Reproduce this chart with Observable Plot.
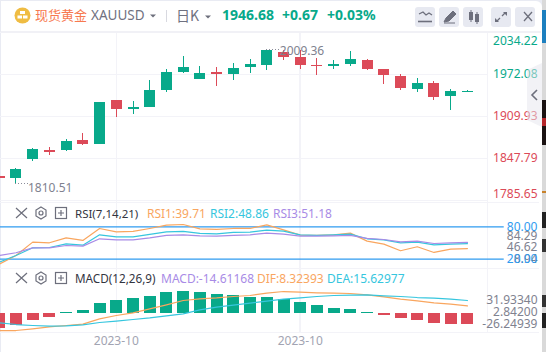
<!DOCTYPE html>
<html><head><meta charset="utf-8">
<script src="https://cdn.jsdelivr.net/npm/d3@7"></script>
<script src="https://cdn.jsdelivr.net/npm/@observablehq/plot@0.6"></script>
<style>
html,body{margin:0;padding:0;background:#e9ebf3;}
body{width:546px;height:352px;overflow:hidden;position:relative;font-family:"Noto Sans","Noto Sans CJK SC",sans-serif;}
#panel{position:absolute;left:1px;top:1px;width:541px;height:351px;background:#fff;border-top-right-radius:6px;}
.abs{position:absolute;white-space:nowrap;line-height:1;}
.pane{position:absolute;left:0;}
.pane svg{display:block;overflow:visible;}
.btn{position:absolute;top:7px;width:20px;height:20px;border-radius:3px;background:#e7e9f1;}
.strip{position:absolute;left:542px;width:4px;}
</style></head><body>
<div class="strip" style="top:0;height:352px;background:#d9d9d9"></div>
<div class="strip" style="top:10px;height:33px;background:#1c7fbf"></div>
<div class="strip" style="top:100px;height:45px;background:#1a1212"></div>
<div class="strip" style="top:118px;height:8px;background:#b5262a"></div>
<div class="strip" style="top:191px;height:2px;background:#c8822a"></div>
<div class="strip" style="top:212px;height:16px;background:#222"></div>
<div class="strip" style="top:239px;height:13px;background:#333"></div>
<div class="strip" style="top:295px;height:12px;background:#333"></div>
<div class="strip" style="top:313px;height:15px;background:#222"></div>
<div id="panel"></div>
<div id="charts"></div>
<div id="chrome"></div>
<script>
// ----- candle data -----
const index = d3.range(29);
const opens  = [1821.2,1818.2,1846.8,1859.2,1859.6,1874.4,1868.5,1933.6,1920.3,1923.7,1948.8,1975.0,1965.1,1975.5,1972.5,1982.4,1985.8,2005.0,1997.2,1985.4,1983.9,1986.9,1992.8,1979.5,1969.1,1949.9,1958.8,1939.5,1945.9];
const highs  = [1821.9,1833.4,1862.6,1864.1,1875.9,1884.8,1930.6,1933.6,1932.1,1963.2,1979.0,1998.7,1983.9,1982.9,1988.3,1994.3,2009.36,2007.0,2007.6,1995.7,1992.8,2006.1,1994.3,1979.5,1972.1,1966.2,1961.7,1949.9,1948.4];
const lows   = [1817.5,1810.51,1843.4,1852.2,1858.1,1867.0,1868.5,1908.5,1913.3,1923.7,1945.4,1973.5,1964.7,1954.3,1963.2,1973.5,1978.0,1992.8,1979.5,1970.6,1979.5,1983.9,1978.0,1957.3,1948.4,1945.4,1933.6,1919.3,1945.4];
const closes = [1818.2,1831.5,1861.1,1857.4,1872.9,1868.5,1930.6,1920.3,1923.7,1948.4,1975.0,1982.4,1973.5,1972.5,1981.0,1986.9,2007.6,1997.7,1985.8,1984.3,1986.9,1994.3,1979.5,1970.6,1951.4,1958.8,1938.0,1946.9,1946.68];
// ----- RSI -----
const rsi1 = [10.9,26.9,51.6,50.4,59.6,54.7,76.9,70.7,71.4,76.9,83.1,84.29,76.3,75.1,76.9,76.9,83.7,74.4,64.6,64.0,65.2,68.3,53.5,47.9,35.6,43.0,32.5,38.6,39.71];
const rsi2 = [14.6,26.9,41.1,41.7,48.5,46.0,65.2,61.5,61.5,65.8,70.7,71.4,67.7,67.0,69.5,70.1,73.8,72.0,65.2,64.0,65.2,66.4,57.8,55.9,50.4,51.6,46.7,47.9,48.86];
const rsi3 = [26.9,31.9,41.1,41.1,45.4,44.2,57.8,55.9,55.9,59.6,64.0,65.2,63.3,62.7,64.0,65.2,68.3,66.4,62.7,62.7,63.3,64.0,58.4,56.5,52.2,53.5,49.1,50.4,51.18];
// ----- MACD -----
const macdBars = [-19.6,-15.6,-9.3,-5.3,0.7,4.0,13.3,17.3,20.0,22.7,28.0,29.3,28.0,25.3,23.6,21.3,21.3,18.7,14.7,10.7,6.7,5.3,0.9,-2.7,-6.7,-9.3,-13.3,-14.7,-14.61];
const dif = [-22.7,-22.7,-20.4,-17.8,-16.0,-14.2,-7.1,-2.7,0.9,6.2,11.6,17.3,19.6,20.9,22.7,24.0,27.1,29.3,28.4,27.6,27.1,26.7,24.9,22.2,19.1,16.9,14.2,12.4,10.2];
const dea = [-12.4,-14.7,-16.0,-16.9,-16.4,-15.1,-12.0,-10.2,-8.0,-5.8,-3.1,-0.4,4.9,8.4,11.1,13.8,16.4,19.1,20.9,22.7,24.0,24.4,24.9,23.6,22.7,21.3,20.4,19.1,17.3];
// ----- axis labels -----
const priceTicks  = [2034.22,1972.08,1909.93,1847.79,1785.65];
const priceLabelY = [2022,1972.08,1909.93,1847.79,1795];
const rsiLevels = [80,20];
const rsiExtraLabels = ["84.29","46.62","8.94"];
const rsiExtraY = [62.8,42.3,19.6];
const macdLabels = ["31.93340","2.84200","-26.24939"];
const macdLabelY = [17.3,2.3,-14];
const dateTicks = [7,18];
const dateLabels = ["2023-10","2023-10"];
const highIdx = 16, lowIdx = 1;
// ----- styling -----
const GREEN="#08a98a", RED="#dc4a58", GRID="#f3f3f8", BLUE="#2f9bf0",
      ORANGE="#f9a65f", CYAN="#36c6de", PURPLE="#a88be6", GRAYTXT="#80828f";
const FONT='"Noto Sans",sans-serif';
const xScale = {domain:[0.0735,29.2], range:[0,487], axis:null};
const colorOf = i => closes[i] >= opens[i] ? GREEN : RED;
const base = {width:546, marginLeft:0, marginRight:59, x:xScale, style:{background:"transparent",fontFamily:FONT,fontSize:"12px"}};
const vgrid = () => Plot.ruleX([...dateTicks,29.2],{stroke:GRID,strokeWidth:1.5,shapeRendering:"crispEdges"});

const main = Plot.plot({...base, height:170, marginTop:0, marginBottom:0,
  y:{domain:[1782.7,2034.22], range:[170,0], axis:null},
  marks:[
    vgrid(),
    Plot.ruleY(priceTicks,{stroke:GRID,strokeWidth:1.5,shapeRendering:"crispEdges"}),
    Plot.ruleX(index,{x:i=>i,y1:i=>lows[i],y2:i=>highs[i],stroke:colorOf,strokeWidth:1,clip:true,shapeRendering:"crispEdges"}),
    Plot.ruleX(index,{x:i=>i,y1:i=>opens[i],y2:i=>closes[i],stroke:colorOf,strokeWidth:11,clip:true,shapeRendering:"crispEdges"}),
    Plot.ruleY([highs[highIdx]],{x1:highIdx,x2:highIdx+0.78,stroke:"#8a8c99",strokeDasharray:"1 2",shapeRendering:"crispEdges"}),
    Plot.ruleY([lows[lowIdx]],{x1:lowIdx,x2:lowIdx+0.75,stroke:"#8a8c99",strokeDasharray:"1 2",shapeRendering:"crispEdges"}),
    Plot.text([highs[highIdx]],{x:highIdx,y:d=>d,text:d=>d.toFixed(2),dx:13,dy:2,textAnchor:"start",fill:GRAYTXT,fontSize:12}),
    Plot.text([lows[lowIdx]],{x:lowIdx,y:d=>d,text:d=>d.toFixed(2),dx:12,dy:4,textAnchor:"start",fill:GRAYTXT,fontSize:12}),
    Plot.text(priceTicks,{y:(d,i)=>priceLabelY[i],text:d=>d.toFixed(2),frameAnchor:"right",dx:50,textAnchor:"end",
      fill:(d,i)=>i<2?GREEN:RED,fontSize:12})
  ]});

const rsi = Plot.plot({...base, height:66, marginTop:0, marginBottom:0,
  y:{domain:[2.78,125], range:[66,0], axis:null},
  marks:[
    vgrid(),
    Plot.ruleY([2.78],{stroke:GRID,strokeWidth:1.5,x1:0.0735,x2:32.3,shapeRendering:"crispEdges"}),
    Plot.ruleY([125],{stroke:GRID,strokeWidth:1.5,x1:0.0735,x2:32.3,shapeRendering:"crispEdges"}),
    Plot.ruleY(rsiLevels,{x1:0.0735,x2:30.2,stroke:BLUE,strokeWidth:1.3}),
    Plot.line(index,{x:i=>i,y:i=>rsi1[i],stroke:ORANGE,strokeWidth:1.2,clip:true}),
    Plot.line(index,{x:i=>i,y:i=>rsi2[i],stroke:CYAN,strokeWidth:1.2,clip:true}),
    Plot.line(index,{x:i=>i,y:i=>rsi3[i],stroke:PURPLE,strokeWidth:1.2,clip:true}),
    Plot.text(rsiExtraLabels,{y:(d,i)=>rsiExtraY[i],text:d=>d,frameAnchor:"right",dx:50,textAnchor:"end",fill:GRAYTXT,fontSize:12}),
    Plot.text(rsiLevels,{y:d=>d,text:d=>d.toFixed(2),frameAnchor:"right",dx:50,textAnchor:"end",fill:BLUE,fontSize:12})
  ]});

const macd = Plot.plot({...base, height:84, marginTop:0, marginBottom:20,
  y:{domain:[-25.33,60], range:[64,0], axis:null},
  marks:[
    vgrid(),
    Plot.ruleY([-25.33],{stroke:GRID,strokeWidth:1.5,x1:0.0735,x2:32.3,shapeRendering:"crispEdges"}),
    Plot.ruleX(index,{x:i=>i,y1:0,y2:i=>macdBars[i],stroke:i=>macdBars[i]>=0?GREEN:RED,strokeWidth:12,clip:true,shapeRendering:"crispEdges"}),
    Plot.line(index,{x:i=>i,y:i=>dif[i],stroke:ORANGE,strokeWidth:1.2,clip:true}),
    Plot.line(index,{x:i=>i,y:i=>dea[i],stroke:CYAN,strokeWidth:1.2,clip:true}),
    Plot.text(macdLabels,{y:(d,i)=>macdLabelY[i],text:d=>d,frameAnchor:"right",dx:50,textAnchor:"end",fill:GRAYTXT,fontSize:12}),
    Plot.axisX(dateTicks,{anchor:"bottom",tickSize:0,tickPadding:4,label:null,
      tickFormat:d=>dateLabels[dateTicks.indexOf(d)],fill:"#a2a4b2",fontSize:12})
  ]});

const charts=document.getElementById("charts");
[[main,32],[rsi,202],[macd,268]].forEach(([el,top])=>{
  const w=document.createElement("div");w.className="pane";w.style.top=top+"px";w.appendChild(el);charts.appendChild(w);
});

// ----- page chrome -----
const chrome=document.getElementById("chrome");
function txt(s,left,cy,size,color,weight,font){
  const d=document.createElement("div");d.className="abs";d.textContent=s;
  d.style.cssText+=`left:${left}px;top:${cy-size/2}px;font-size:${size}px;color:${color};font-weight:${weight||400};`+(font?`font-family:${font};`:"");
  chrome.appendChild(d);
}
const CJK='"Noto Sans CJK SC",sans-serif';
txt("现货黄金",35,14.5,13,"#f7794f",400,CJK);
txt("XAUUSD",91,16,13.5,"#6f7180");
txt("日K",176,14.5,14,"#6f7180",400,CJK);
txt("1946.68",222,14.5,14,GREEN,700);
txt("+0.67",282,14.5,14,GREEN,700);
txt("+0.03%",327,14.5,14,GREEN,700);
txt("RSI(7,14,21)",75,213.5,11.5,"#33353f");
txt("RSI1:39.71",147,213.5,12,ORANGE);
txt("RSI2:48.86",210,213.5,12,CYAN);
txt("RSI3:51.18",273,213.5,12,PURPLE);
txt("MACD(12,26,9)",75,278.5,11.7,"#33353f");
txt("MACD:-14.61168",161,278.5,12,PURPLE);
txt("DIF:8.32393",257,278.5,12,ORANGE);
txt("DEA:15.62977",327,278.5,12,CYAN);
[415,439,463,491,515].forEach(x=>{const b=document.createElement("div");b.className="btn";b.style.left=x+"px";chrome.appendChild(b);});
const I="#6d6f7c";
const row=(y)=>`<g fill="none" stroke="${I}" stroke-width="1.2">
<path d="M16 ${y-5}L27 ${y+5}M27 ${y-5}L16 ${y+5}"/>
<path d="M41 ${y-6}L46 ${y-3}V${y+3}L41 ${y+6}L36 ${y+3}V${y-3}Z"/><circle cx="41" cy="${y}" r="2"/>
<rect x="55.5" y="${y-5.5}" width="11" height="11"/><path d="M58 ${y}H64M61 ${y-3}V${y+3}"/></g>`;
const ov=`<svg class="abs" style="left:0;top:0" width="546" height="352" xmlns="http://www.w3.org/2000/svg">
<circle cx="22.5" cy="15.5" r="8" fill="#efbc43"/>
<g fill="#fff"><rect x="20" y="11" width="5" height="3"/><rect x="17.5" y="15.5" width="4.5" height="3"/><rect x="23" y="15.5" width="4.5" height="3"/></g>
<path d="M150 14.5h6l-3 3z" fill="${I}"/><path d="M205 15.5h6l-3 3z" fill="${I}"/>
<path d="M166.5 10V22" stroke="#d8d9e0"/>
${row(213)}${row(278)}
<g stroke="${I}" fill="none" stroke-width="1.3">
<path d="M419 14l4-2 3 3 3-2 3 2"/><path d="M418 21.5H432" stroke-width="1.6"/>
<path d="M524 12L532 21M532 12L524 21"/>
<path d="M497 21l3-3M505 13l-3 3"/>
</g>
<path d="M444 22l2-4 7-7 3 3-7 7zM444 23H455" fill="${I}" stroke="${I}"/>
<g fill="${I}"><rect x="469" y="12" width="4" height="8"/><rect x="475" y="14" width="4" height="8"/><path d="M471 10V22M477 12V24" stroke="${I}"/>
<path d="M495 22v-4l4 4zM507 12v4l-4-4z"/></g>
<path d="M527 70L542 63V127L527 120Z" fill="#e6e6ee" fill-opacity=".5"/>
<path d="M537 90L532 95L537 100" fill="none" stroke="${I}" stroke-width="1.6"/>
<path d="M1 32H541" stroke="#f1f1f6" stroke-width="2"/>
</svg>`;
chrome.insertAdjacentHTML("beforeend",ov);
</script>
</body></html>
